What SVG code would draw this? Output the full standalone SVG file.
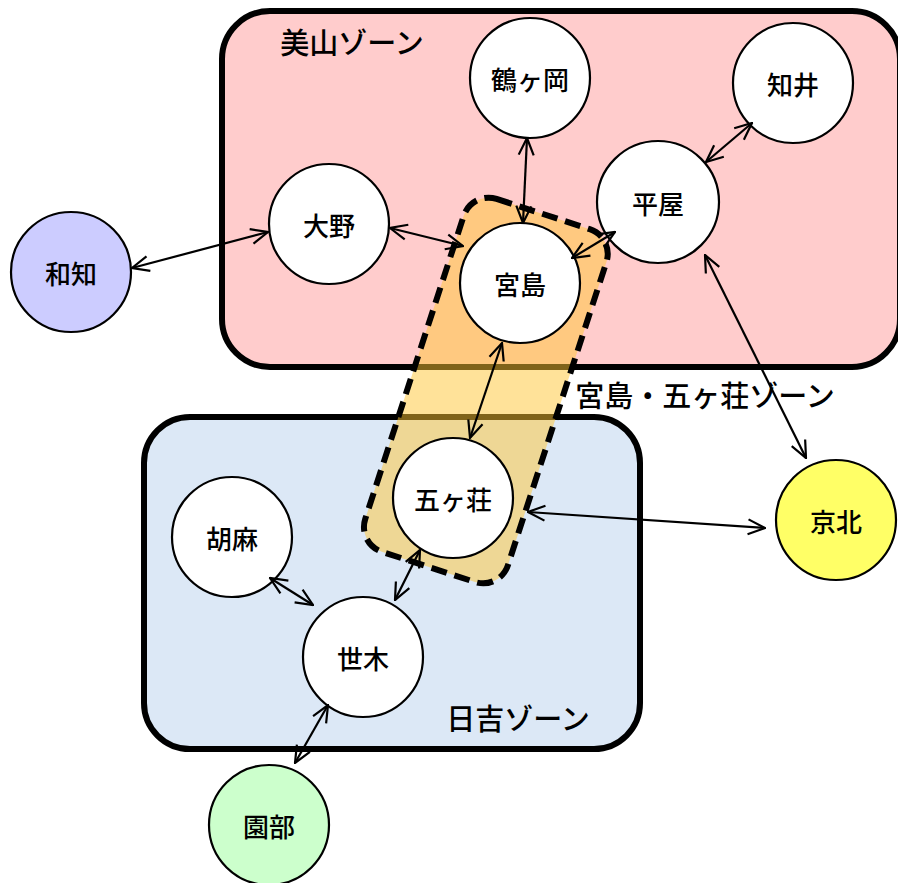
<svg xmlns="http://www.w3.org/2000/svg" width="898" height="883" viewBox="0 0 898 883">
<defs>
<marker id="ah" viewBox="0 0 20 20" refX="19" refY="10" markerWidth="20" markerHeight="20" markerUnits="userSpaceOnUse" orient="auto-start-reverse">
<path d="M2,2.5 L19,10 L2,17.5" fill="none" stroke="#000" stroke-width="2.2"/>
</marker>
<style>
.zone{stroke:#000;stroke-width:6}
.node circle{fill:#fff;stroke:#000;stroke-width:2.2}
text{font-family:"Noto Sans CJK JP","Noto Sans",sans-serif;fill:#000;font-weight:500}
.lbl{font-size:26px;text-anchor:middle;dominant-baseline:central}
.zl{font-size:29px}
.conn line{stroke:#000;stroke-width:2.2;marker-start:url(#ah);marker-end:url(#ah)}
</style>
</defs>
<rect width="898" height="883" fill="#fff"/>
<g id="zone-miyama">
<rect class="zone" x="222" y="11" width="678" height="356" rx="48" fill="#ffcccc"/>
<text class="zl" x="352" y="41" text-anchor="middle" dominant-baseline="central">美山ゾーン</text>
</g>
<g id="zone-hiyoshi">
<rect class="zone" x="144" y="417" width="496" height="332" rx="46" fill="#dce8f6"/>
<text class="zl" x="518" y="717" text-anchor="middle" dominant-baseline="central">日吉ゾーン</text>
</g>
<g id="zone-miyajima">
<rect x="411" y="205" width="150" height="371" rx="26" fill="#ffc633" fill-opacity="0.5" stroke="#000" stroke-width="6" stroke-dasharray="16,8" transform="rotate(18 486 390)"/>
<text class="zl" x="705" y="394" text-anchor="middle" dominant-baseline="central">宮島・五ヶ荘ゾーン</text>
</g>
<g id="n-tsurugaoka" class="node"><circle cx="530" cy="78" r="60"/><text class="lbl" x="530" y="78">鶴ヶ岡</text></g>
<g id="n-chii" class="node"><circle cx="793" cy="83" r="60"/><text class="lbl" x="793" y="83">知井</text></g>
<g id="n-hiraya" class="node"><circle cx="658" cy="202" r="61"/><text class="lbl" x="658" y="202">平屋</text></g>
<g id="n-ono" class="node"><circle cx="329" cy="224" r="60"/><text class="lbl" x="329" y="224">大野</text></g>
<g id="n-miyajima" class="node"><circle cx="520" cy="283" r="60"/><text class="lbl" x="520" y="283">宮島</text></g>
<g id="n-wachi" class="node"><circle cx="71" cy="272" r="60" style="fill:#ccccff"/><text class="lbl" x="71" y="272">和知</text></g>
<g id="n-gokasho" class="node"><circle cx="453" cy="498" r="60"/><text class="lbl" x="453" y="498">五ヶ荘</text></g>
<g id="n-goma" class="node"><circle cx="232" cy="537" r="60"/><text class="lbl" x="232" y="537">胡麻</text></g>
<g id="n-seki" class="node"><circle cx="363" cy="657" r="60"/><text class="lbl" x="363" y="657">世木</text></g>
<g id="n-keihoku" class="node"><circle cx="836" cy="520" r="60" style="fill:#ffff66"/><text class="lbl" x="836" y="520">京北</text></g>
<g id="n-sonobe" class="node"><circle cx="269" cy="825" r="60" style="fill:#ccffcc"/><text class="lbl" x="269" y="825">園部</text></g>
<g id="connectors" class="conn">
<line x1="132" y1="268" x2="268" y2="232"/>
<line x1="390" y1="228" x2="463" y2="246"/>
<line x1="527" y1="138" x2="523" y2="223"/>
<line x1="615" y1="232" x2="572" y2="258"/>
<line x1="752" y1="123" x2="706" y2="162"/>
<line x1="705" y1="255" x2="806" y2="458"/>
<line x1="502" y1="343" x2="470" y2="438"/>
<line x1="528" y1="512" x2="765" y2="528"/>
<line x1="420" y1="550" x2="395" y2="600"/>
<line x1="270" y1="578" x2="313" y2="605"/>
<line x1="328" y1="705" x2="295" y2="763"/>
</g>
</svg>
